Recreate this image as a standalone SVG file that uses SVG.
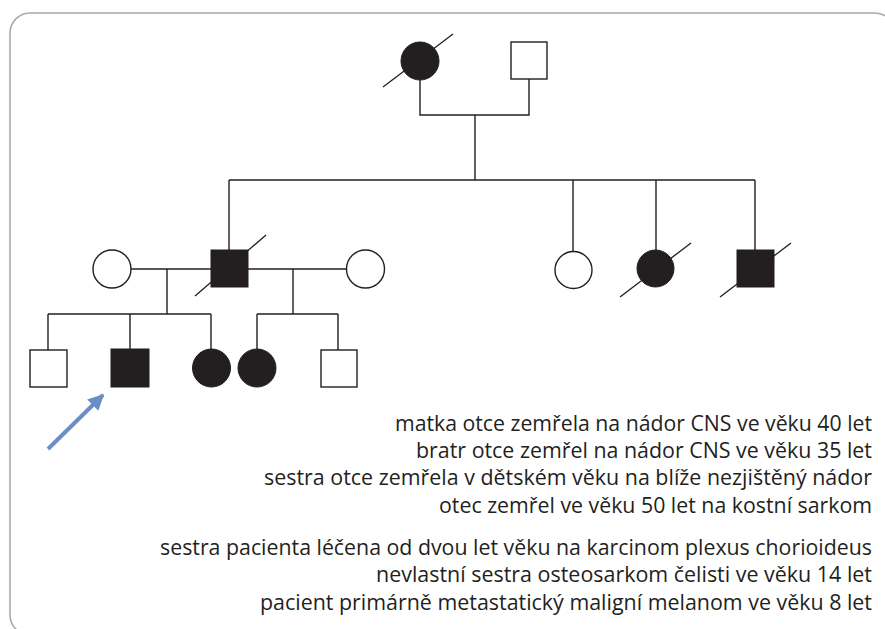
<svg xmlns="http://www.w3.org/2000/svg" width="885" height="629" viewBox="0 0 885 629">
<style>
.ln{stroke:#231f20;stroke-width:1.4;fill:none}
.op{fill:#fff;stroke:#231f20;stroke-width:1.4}
.fl{fill:#231f20;stroke:#231f20;stroke-width:1}
.sl{stroke:#231f20;stroke-width:1.3}
.t{font-family:"Open Sans","Noto Sans",sans-serif;font-size:21px;fill:#231f20;text-anchor:end}
</style>
<defs>
<marker id="ah" viewBox="0 0 10 10" refX="9" refY="5" markerWidth="4" markerHeight="4" orient="auto" markerUnits="strokeWidth">
<path d="M0,0 L10,5 L0,10 z" fill="#6b8ec4"/>
</marker>
</defs>
<rect x="10" y="13" width="885" height="622" rx="20" ry="20" fill="#fff" stroke="#a6a6a6" stroke-width="1.5"/>
<g id="connectors">
<path class="ln" d="M420,80 V115 H529 V79 M475,115 V180 M229,180 H755 M229,180 V250 M573,180 V252 M656,180 V250 M755,180 V250"/>
<path class="ln" d="M131,269 H347 M167,269 V314 M293,269 V314 M48,314 H211 M257,314 H338 M48,314 V350 M130,314 V349 M211,314 V349 M257,314 V349 M338,314 V350"/>
</g>
<g id="grandmother"><circle class="fl" cx="420" cy="61" r="19"/><line class="sl" x1="383" y1="87" x2="453" y2="34"/></g>
<g id="grandfather"><rect class="op" x="511" y="42" width="36" height="37"/></g>
<g id="mother"><circle class="op" cx="112" cy="269" r="19"/></g>
<g id="father"><rect class="fl" x="211" y="250" width="37" height="37"/><line class="sl" x1="195" y1="296" x2="266" y2="235"/></g>
<g id="fathers-partner"><circle class="op" cx="365.5" cy="269" r="19"/></g>
<g id="aunt"><circle class="op" cx="573.5" cy="270" r="18.5"/></g>
<g id="aunt-deceased"><circle class="fl" cx="655.5" cy="268.5" r="18.5"/><line class="sl" x1="620" y1="297" x2="691" y2="243"/></g>
<g id="uncle"><rect class="fl" x="737" y="250" width="37" height="37"/><line class="sl" x1="720" y1="297" x2="791" y2="243"/></g>
<g id="brother"><rect class="op" x="30" y="350" width="37" height="37"/></g>
<g id="patient"><rect class="fl" x="111" y="349" width="38" height="38"/></g>
<g id="sister"><circle class="fl" cx="211.5" cy="368" r="19"/></g>
<g id="half-sister"><circle class="fl" cx="257" cy="368" r="19"/></g>
<g id="half-brother"><rect class="op" x="321" y="350" width="36" height="37"/></g>
<g id="proband-arrow"><line x1="48" y1="449" x2="103" y2="395" stroke="#6b8ec4" stroke-width="4" marker-end="url(#ah)"/></g>
<g id="legend">
<text class="t" x="872" y="431" textLength="477" lengthAdjust="spacingAndGlyphs">matka otce zemřela na nádor CNS ve věku 40 let</text>
<text class="t" x="872" y="458" textLength="456" lengthAdjust="spacingAndGlyphs">bratr otce zemřel na nádor CNS ve věku 35 let</text>
<text class="t" x="872" y="485" textLength="608" lengthAdjust="spacingAndGlyphs">sestra otce zemřela v dětském věku na blíže nezjištěný nádor</text>
<text class="t" x="872" y="513" textLength="433" lengthAdjust="spacingAndGlyphs">otec zemřel ve věku 50 let na kostní sarkom</text>
<text class="t" x="872" y="555" textLength="712" lengthAdjust="spacingAndGlyphs">sestra pacienta léčena od dvou let věku na karcinom plexus chorioideus</text>
<text class="t" x="872" y="582" textLength="496" lengthAdjust="spacingAndGlyphs">nevlastní sestra osteosarkom čelisti ve věku 14 let</text>
<text class="t" x="872" y="610" textLength="612" lengthAdjust="spacingAndGlyphs">pacient primárně metastatický maligní melanom ve věku 8 let</text>
</g>
</svg>
